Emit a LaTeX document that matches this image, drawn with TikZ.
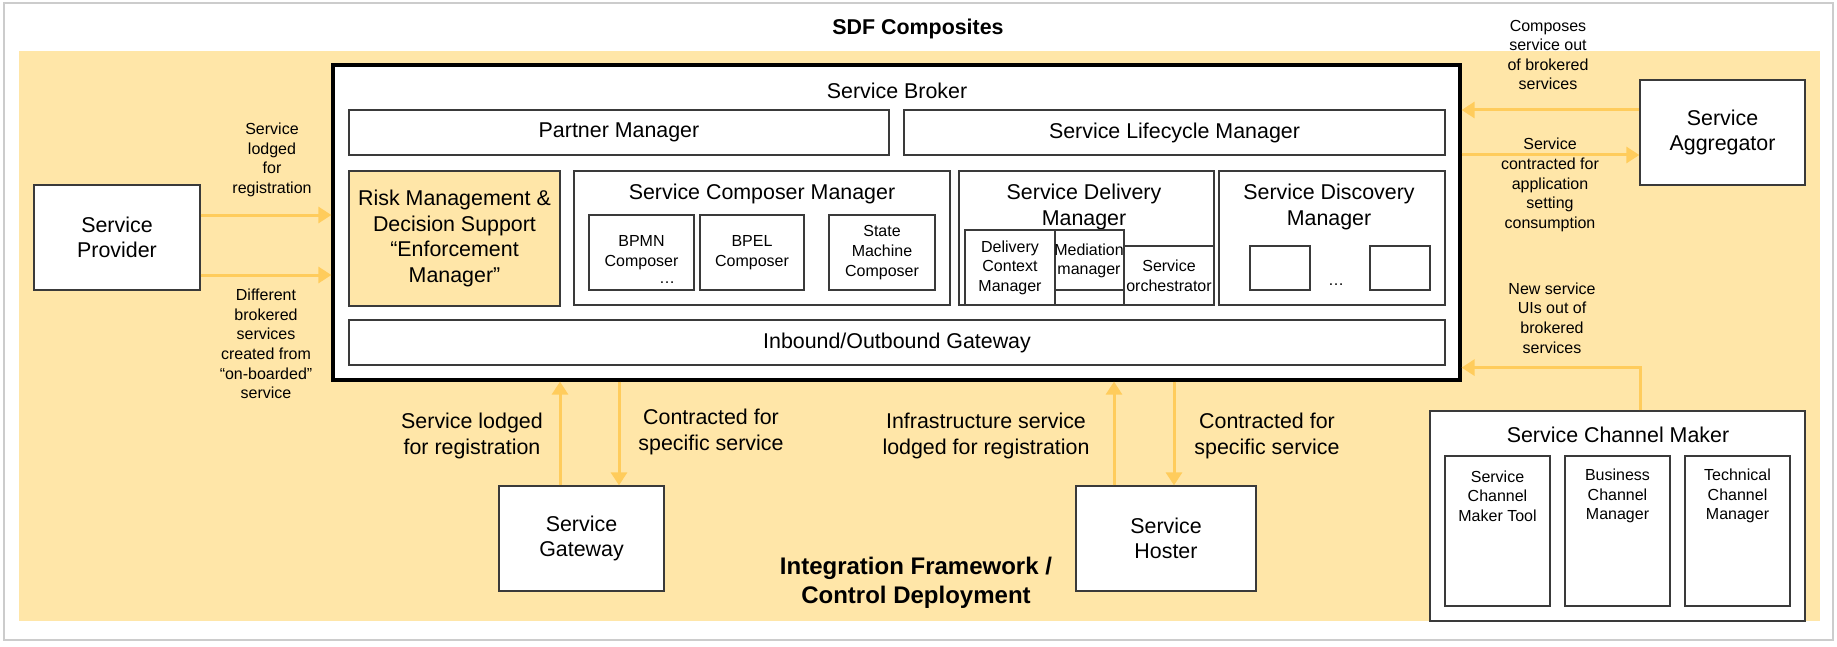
\documentclass[tikz,border=0pt]{standalone}
\usepackage{fontspec}
\setmainfont{Liberation Sans}
\usetikzlibrary{arrows.meta}

\definecolor{bgorange}{HTML}{FFE6A8}
\definecolor{arrowy}{HTML}{FFCC5C}
\definecolor{boxline}{HTML}{3A3A3A}

\newcommand{\bigtxt}{\fontsize{10.7}{12.8}\selectfont}
\newcommand{\smalltxt}{\fontsize{8}{9.8}\selectfont}

\begin{document}
\begin{tikzpicture}[x=0.5pt,y=-0.5pt,>={Triangle[length=6.5pt,width=8pt]},
  box/.style={draw=boxline,line width=0.65pt,fill=white,inner sep=0pt,align=center,font=\bigtxt},
  sbox/.style={box,font=\smalltxt},
  lbl/.style={align=center,font=\smalltxt,inner sep=0pt},
  blbl/.style={align=center,font=\bigtxt,inner sep=0pt},
  flow/.style={->,draw=arrowy,line width=1.5pt}]

\useasboundingbox (0,0) rectangle (1837,647);
\draw[gray!40,line width=0.8pt] (4,3) rectangle (1833,640);
\fill[bgorange] (19,51) rectangle (1820,621);

\node[blbl,font=\bigtxt\bfseries] (sdf) at (918,29) {SDF Composites};
\node[blbl,font=\fontsize{12}{14.5}\selectfont\bfseries] (ifw) at (916,583) {Integration Framework /\\Control Deployment};

% broker
\node[box,draw=black,line width=1.6pt,minimum width=563.5pt,minimum height=157.5pt] (broker) at (896.5,222.5) {};
\node[blbl] (brokertitle) at (897,91) {Service Broker};
\node[box,minimum width=270pt,minimum height=22.5pt] (partner) at (619,132.5) {Partner Manager};
\node[box,minimum width=270.5pt,minimum height=22.5pt] (lifecycle) at (1174.5,132.5) {Service Lifecycle Manager};
\node[box,fill=bgorange,minimum width=105.5pt,minimum height=67.5pt] (risk) at (454.5,238.5) {Risk Management \&\\Decision Support\\“Enforcement\\Manager”};

\node[box,minimum width=188pt,minimum height=67pt] (composer) at (762,238) {};
\node[blbl] (composertitle) at (762,194) {Service Composer Manager};
\node[sbox,minimum width=52.5pt,minimum height=37.5pt] (bpmn) at (641.5,252.5) {BPMN\\Composer};
\node[lbl] (bpmndots) at (667,283) {\dots};
\node[sbox,minimum width=52pt,minimum height=37.5pt] (bpel) at (752,252.5) {BPEL\\Composer};
\node[sbox,minimum width=53pt,minimum height=37.5pt] (statem) at (882,252.5) {State\\Machine\\Composer};

\node[box,minimum width=127.5pt,minimum height=67pt] (delivery) at (1086.5,238) {};
\node[blbl] (deliverytitle) at (1084,207) {Service Delivery\\Manager};
\node[sbox,minimum width=45pt,minimum height=37.5pt] (delctx) at (1010,267.5) {Delivery\\Context\\Manager};
\node[sbox,minimum width=34.5pt,minimum height=37.5pt] (mediation) at (1089.5,267.5) {};
\node[lbl] (mediationtext) at (1089,261) {Mediation\\manager};
\draw[boxline,line width=0.65pt] (1055,290) -- (1124,290);
\node[sbox,minimum width=45pt,minimum height=29.5pt] (orch) at (1169,275.5) {Service\\orchestrator};

\node[box,minimum width=113pt,minimum height=67pt] (discovery) at (1332,238) {};
\node[blbl] (discoverytitle) at (1329,207) {Service Discovery\\Manager};
\node[box,minimum width=30pt,minimum height=22pt] (disca) at (1280,268) {};
\node[box,minimum width=30pt,minimum height=22pt] (discb) at (1400,268) {};
\node[lbl] (discdots) at (1336,285) {\dots};

\node[box,minimum width=548pt,minimum height=22.5pt] (gateway) at (897,342.5) {Inbound/Outbound Gateway};

% outside boxes
\node[box,minimum width=83pt,minimum height=52.5pt] (prov) at (117,237.5) {Service\\Provider};
\node[box,minimum width=82.5pt,minimum height=52.5pt] (agg) at (1722.5,132.5) {Service\\Aggregator};
\node[box,minimum width=82.5pt,minimum height=52.5pt] (sgw) at (581.5,538.5) {Service\\Gateway};
\node[box,minimum width=90pt,minimum height=52.5pt] (hoster) at (1166,538.5) {Service\\Hoster};

\node[box,minimum width=187.5pt,minimum height=105pt] (chan) at (1617.5,516) {};
\node[blbl] (chantitle) at (1618,435) {Service Channel Maker};
\foreach \cx/\name/\txt in {1497.5/tool/Service\\Channel\\Maker Tool,1617.5/bcm/Business\\Channel\\Manager,1737.5/tcm/Technical\\Channel\\Manager}{
  \node[sbox,minimum width=52.5pt,minimum height=75pt] (\name) at (\cx,531) {};
  \node[lbl] (\name text) at (\cx,496) {\txt};
}

% flows
\coordinate (p1) at ([yshift=11.25pt]prov.east);
\coordinate (p2) at ([yshift=-18.75pt]prov.east);
\draw[flow] (p1) -- (p1 -| broker.west);
\draw[flow] (p2) -- (p2 -| broker.west);
\coordinate (a1) at ([yshift=11.25pt]agg.west);
\coordinate (a2) at ([yshift=-11.25pt]agg.west);
\draw[flow] (a1) -- (a1 -| broker.east);
\draw[flow] (a2 -| broker.east) -- (a2);
\draw[flow] ([xshift=11.25pt]chan.north) |- ([yshift=7pt]broker.south east);
\coordinate (g1) at ([xshift=-10.75pt]sgw.north);
\coordinate (g2) at ([xshift=18.75pt]sgw.north);
\draw[flow] (g1) -- (g1 |- broker.south);
\draw[flow] (g2 |- broker.south) -- (g2);
\coordinate (h1) at ([xshift=-26pt]hoster.north);
\coordinate (h2) at ([xshift=4pt]hoster.north);
\draw[flow] (h1) -- (h1 |- broker.south);
\draw[flow] (h2 |- broker.south) -- (h2);

% labels
\node[lbl] (lodged) at (272,160) {Service\\lodged\\for\\registration};
\node[lbl] (different) at (266,344) {Different\\brokered\\services\\created from\\“on-boarded”\\service};
\node[lbl] (composes) at (1548,55) {Composes\\service out\\of brokered\\services};
\node[lbl] (contracted) at (1550,185) {Service\\contracted for\\application\\setting\\consumption};
\node[lbl] (newui) at (1552,318) {New service\\UIs out of\\brokered\\services};
\node[blbl] (sgwlodged) at (472,436) {Service lodged\\for registration};
\node[blbl] (sgwcontr) at (711,432) {Contracted for\\specific service};
\node[blbl] (infra) at (986,436) {Infrastructure service\\lodged for registration};
\node[blbl] (hostcontr) at (1267,436) {Contracted for\\specific service};

\end{tikzpicture}
\end{document}
